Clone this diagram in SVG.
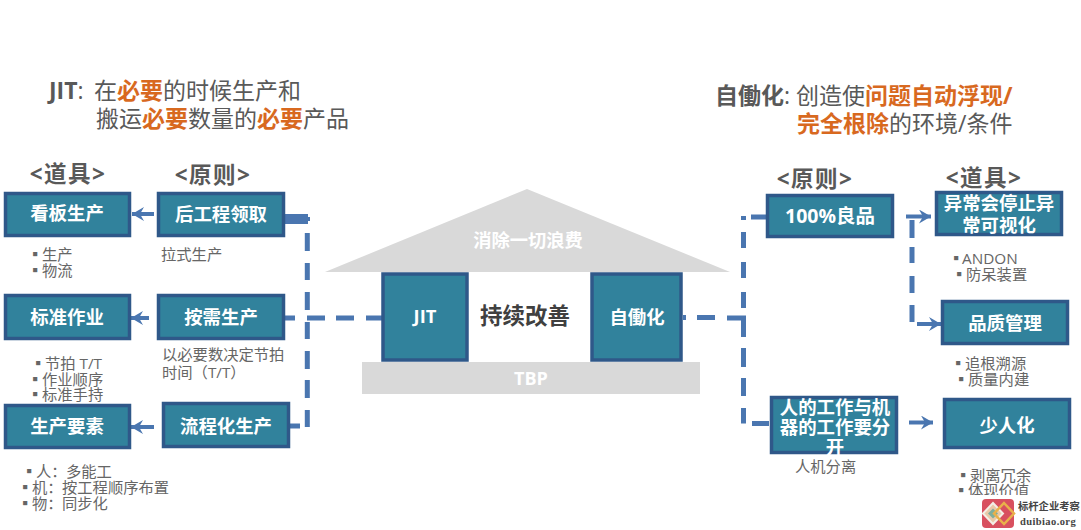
<svg xmlns="http://www.w3.org/2000/svg" width="1081" height="530" viewBox="0 0 1081 530">
<style>
text{font-family:"Open Sans","Noto Sans CJK SC",sans-serif}
.box{fill:#31829c;stroke:#2f5889;stroke-width:3.5}
.bt{fill:#fff;font-size:18.4px;font-weight:700;text-anchor:middle}
.h{fill:#595959;font-size:23px}
.o{fill:#d8691f;font-weight:700}
.b{font-weight:700}
.hd{fill:#595959;font-size:22.5px;font-weight:700;text-anchor:middle;letter-spacing:1.5px}
.s{fill:#666;font-size:15.3px}
.dash{fill:none;stroke:#4a76b0;stroke-width:5}
.solid{fill:none;stroke:#4a76b0;stroke-width:4}
.roof{fill:#d9d9d9}
</style>
<defs><marker id="ah" markerUnits="userSpaceOnUse" markerWidth="13" markerHeight="14" refX="12" refY="7" orient="auto"><path d="M0 0 L12 7 L0 14 L4 7 Z" fill="#4a76b0"/></marker></defs>

<g id="titles">
<text class="h" x="49" y="99"><tspan class="b">JIT</tspan>:<tspan x="94">在</tspan><tspan class="o">必要</tspan>的时候生产和</text>
<text class="h" x="96" y="127">搬运<tspan class="o">必要</tspan>数量的<tspan class="o">必要</tspan>产品</text>
<text class="h" x="715" y="104"><tspan class="b">自働化</tspan>:<tspan x="796">创造使</tspan><tspan class="o">问题自动浮现/</tspan></text>
<text class="h" x="797" y="132"><tspan class="o">完全根除</tspan>的环境/条件</text>
<text class="hd" x="68" y="182">&lt;道具&gt;</text>
<text class="hd" x="213" y="183">&lt;原则&gt;</text>
<text class="hd" x="815" y="187">&lt;原则&gt;</text>
<text class="hd" x="984" y="186">&lt;道具&gt;</text>
</g>

<g id="connectors">
<path class="dash" d="M307.300 233V251M307.300 263V280M307.300 292V310M307.300 322V339M307.300 351V369M307.300 380V398M307.300 410V427"/>
<path d="M285 219H308" fill="none" stroke="#4a76b0" stroke-width="10"/>
<path d="M308 219H310" fill="none" stroke="#4a76b0" stroke-width="4"/>
<path class="dash" d="M285 318H295M307 318H325M336 318H354M366 318H384"/>
<path class="dash" d="M290 426H300"/>
<path class="solid" d="M154 214H132" marker-end="url(#ah)"/>
<path class="solid" d="M149 318H131" marker-end="url(#ah)"/>
<path class="solid" d="M154 427H131" marker-end="url(#ah)"/>
<path class="dash" d="M683 317.500H686M697 317.500H715M727 318H743.500V337M743.500 348V367M743.500 378V396M743.500 408V423.500H743.500M752 423.500H769"/>
<path class="dash" d="M743.500 308V292M743.500 278V262M743.500 248V232M743.500 220V216M751 217H766"/>
<path class="dash" d="M912 220V238M912 247V263M912 276V293M912 305V322"/>
<path class="solid" d="M906 216.500H931" marker-end="url(#ah)"/>
<path class="solid" d="M917 324H941" marker-end="url(#ah)"/>
<path class="solid" d="M909 422.500H933" marker-end="url(#ah)"/>
</g>

<g id="house">
<path class="roof" d="M325 272L527 189L730 272Z"/>
<text x="528" y="247" fill="#fff" font-size="18.300" font-weight="700" text-anchor="middle">消除一切浪费</text>
<rect class="roof" x="362" y="362" width="338" height="32"/>
<text x="531" y="385" fill="#fff" font-size="18" font-weight="700" text-anchor="middle">TBP</text>
<text x="525" y="324" fill="#404040" font-size="22.500" font-weight="700" text-anchor="middle">持续改善</text>
</g>

<g id="n-jit"><rect class="box" x="383" y="274" width="84" height="86"/><text class="bt" x="425" y="323">JIT</text></g>
<g id="n-jidoka"><rect class="box" x="592" y="274" width="89" height="86"/><text class="bt" x="637" y="324">自働化</text></g>

<g id="n-kanban"><rect class="box" x="5.500" y="193.500" width="124" height="42"/><text class="bt" x="67" y="220">看板生产</text></g>
<g id="n-post"><rect class="box" x="158.500" y="193.500" width="125" height="42"/><text class="bt" x="221" y="221">后工程领取</text></g>
<g id="n-std"><rect class="box" x="5.500" y="295.500" width="124" height="43"/><text class="bt" x="67" y="324">标准作业</text></g>
<g id="n-need"><rect class="box" x="158.500" y="295.500" width="125" height="43"/><text class="bt" x="221" y="324">按需生产</text></g>
<g id="n-elem"><rect class="box" x="5.500" y="405.500" width="124" height="42"/><text class="bt" x="67" y="433">生产要素</text></g>
<g id="n-flow"><rect class="box" x="163.500" y="403.500" width="125" height="43"/><text class="bt" x="226" y="433">流程化生产</text></g>
<g id="n-good"><rect class="box" x="767.500" y="195.500" width="125" height="41"/><text class="bt" x="830" y="223" style="font-size:19.500px">100%良品</text></g>
<g id="n-andon"><rect class="box" x="936.500" y="192.500" width="125" height="42"/><text class="bt" x="999" y="210">异常会停止异</text><text class="bt" x="999" y="232">常可视化</text></g>
<g id="n-qc"><rect class="box" x="942.500" y="301.500" width="125" height="42"/><text class="bt" x="1005" y="330">品质管理</text></g>
<g id="n-sep"><rect class="box" x="771.500" y="397.500" width="125" height="55"/><text class="bt" x="835" y="414">人的工作与机</text><text class="bt" x="835" y="434">器的工作要分</text><text class="bt" x="835" y="454">开</text></g>
<g id="n-few"><rect class="box" x="944.500" y="399.500" width="125" height="48"/><text class="bt" x="1007" y="432">少人化</text></g>

<g id="notes">
<text class="s" x="27.500" y="260">▪<tspan x="42">生产</tspan></text>
<text class="s" x="27.500" y="276">▪<tspan x="42">物流</tspan></text>
<text class="s" x="161" y="260">拉式生产</text>
<text class="s" x="30.500" y="369">▪<tspan x="45">节拍 T/T</tspan></text>
<text class="s" x="27.500" y="385">▪<tspan x="42">作业顺序</tspan></text>
<text class="s" x="27.500" y="400">▪<tspan x="42">标准手持</tspan></text>
<text class="s" x="162" y="360">以必要数决定节拍</text>
<text class="s" x="162" y="378">时间（T/T）</text>
<text class="s" x="21.500" y="477">▪<tspan x="36">人：</tspan><tspan x="66">多能工</tspan></text>
<text class="s" x="17.500" y="493">▪<tspan x="32">机：</tspan><tspan x="62">按工程顺序布置</tspan></text>
<text class="s" x="17.500" y="509">▪<tspan x="32">物：</tspan><tspan x="62">同步化</tspan></text>
<text class="s" x="948.500" y="264">▪<tspan x="962">ANDON</tspan></text>
<text class="s" x="951.500" y="280">▪<tspan x="966">防呆装置</tspan></text>
<text class="s" x="950.500" y="369">▪<tspan x="965">追根溯源</tspan></text>
<text class="s" x="953.500" y="385">▪<tspan x="968">质量内建</tspan></text>
<text class="s" x="795" y="472">人机分离</text>
<text class="s" x="955.500" y="481">▪<tspan x="970">剥离冗余</tspan></text>
<text class="s" x="953.500" y="496">▪<tspan x="968">体现价值</tspan></text>
<rect x="950" y="495" width="131" height="35" fill="#fff"/>
</g>

<g id="watermark">
<rect x="982" y="499" width="32" height="29" rx="4" fill="#d8505f"/>
<path d="M993 503L1003 513.500L993 524L983 513.500Z" fill="#eac9a8" stroke="#f3efe6" stroke-width="2"/>
<path d="M993 508.500L998 513.500L993 518.500L988 513.500Z" fill="#7fae9c"/>
<path d="M1004 503L1014 513.500L1004 524L994 513.500Z" fill="none" stroke="#e9b14a" stroke-width="2.500"/>
<text x="1018" y="510" font-size="10.300" font-weight="700" fill="#444">标杆企业考察</text>
<text x="1020" y="525" font-size="10.500" font-weight="700" fill="#444" letter-spacing=".4" style="font-family:'Liberation Serif',serif">duibiao.org</text>
</g>
</svg>
